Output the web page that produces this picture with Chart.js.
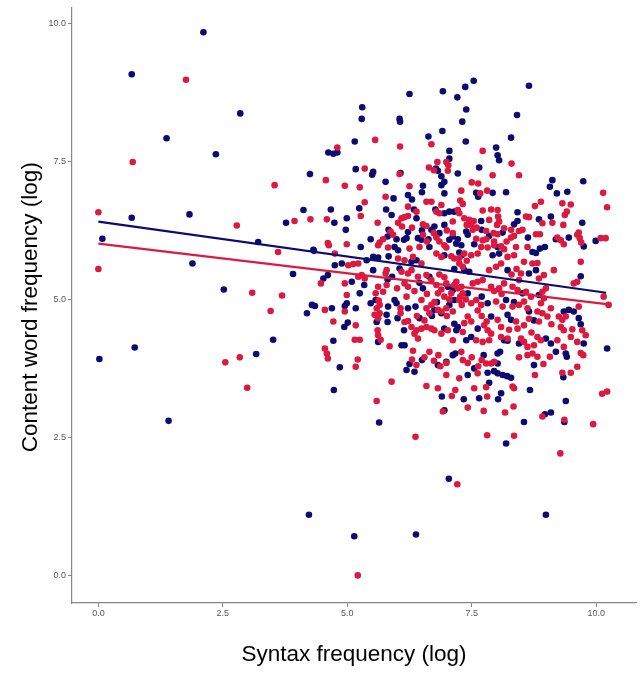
<!DOCTYPE html>
<html>
<head>
<meta charset="utf-8">
<script src="https://cdn.jsdelivr.net/npm/chart.js@4.4.1/dist/chart.umd.min.js"></script>
<style>
  body { margin: 0; background: #fff; }
  #wrap { width: 640px; height: 691px; }
</style>
</head>
<body>
<div id="wrap"><canvas id="scatterChart" width="640" height="691"></canvas></div>
<script>
// tick labels & titles
var xTicks = [0, 2.5, 5, 7.5, 10];
var yTicks = [0, 2.5, 5, 7.5, 10];
var xTitle = 'Syntax frequency (log)';
var yTitle = 'Content word frequency (log)';

// blue series [syntax, content]
var bluePoints = [
    [0.67,9.08],[2.11,9.84],[2.85,8.37],[1.37,7.92],[2.36,7.63],[4.25,7.27],[0.67,6.48],[1.83,6.54],
    [4.12,6.62],[3.77,6.39],[0.08,6.10],[3.21,6.04],[4.33,5.88],[1.89,5.65],[3.91,5.46],[2.52,5.18],
    [3.51,4.27],[0.73,4.13],[0.02,3.92],[3.17,4.01],[1.41,2.80],[4.23,1.10],
    [7.04,1.75],[8.99,1.10],[5.14,0.71],[6.38,0.74],[8.19,2.39],[5.64,2.77],[9.36,2.78],[8.55,2.78],
    [8.97,2.92],[9.09,2.95],[10.22,4.11],[4.73,3.36],[4.85,3.77],[9.39,3.16],
    [7.54,8.96],[8.65,8.87],[7.37,8.85],[6.92,8.77],[6.25,8.72],[7.21,8.66],[7.39,8.44],[5.30,8.48],
    [5.29,8.27],[6.05,8.27],[6.06,8.22],[8.41,8.34],[7.31,8.22],[6.91,8.05],[6.63,7.95],[8.29,7.93],
    [5.15,7.86],[7.38,7.86],[7.99,7.75],
    [4.62,7.66],[4.72,7.64],[4.80,7.66],[7.05,7.69],[5.17,7.36],[5.52,7.31],[5.50,7.26],[5.77,7.13],
    [6.07,7.29],[5.24,6.65],[4.67,6.63],[4.74,6.39],[4.99,6.47],[4.97,6.26],[5.93,6.83],[5.78,6.63],
    [6.22,6.89],[6.52,7.06],[6.50,6.94],[6.30,6.81],[6.34,6.63],[5.89,6.53],[6.39,6.47],[6.69,6.26],
    [6.75,6.32],[6.77,6.63],[6.95,6.56],[7.05,6.59],[7.15,6.59],[6.78,7.37],[6.82,7.33],[6.89,7.23],
    [6.95,7.13],[6.89,7.07],[6.95,6.92],[7.05,7.55],[4.32,5.90],[5.27,5.95],[5.47,6.09],[5.83,6.26],
    [5.81,6.14],[5.99,6.09],[5.95,5.95],[6.14,6.08],[6.19,6.11],[6.22,6.22],[6.42,6.11],[6.49,6.08],
    [6.63,6.09],[6.65,5.95],[7.05,6.08],[7.12,6.14],[7.19,6.01],
    [8.02,7.61],[8.05,7.52],[7.65,7.39],[7.22,7.28],[7.59,6.93],[7.63,6.86],[7.92,6.93],[8.19,6.94],
    [9.12,7.16],[9.07,7.04],[9.21,6.92],[9.42,6.95],[9.74,7.14],[8.42,6.58],[7.69,6.42],[7.70,6.26],
    [8.35,6.36],[8.42,6.42],[8.85,6.45],[9.09,6.50],[9.72,6.39],[8.12,6.21],[8.63,6.12],[7.39,6.23],
    [7.42,6.17],[7.22,6.09],[7.29,5.98],[9.19,6.09],[9.45,6.12],[9.99,6.06],[9.75,5.96],[8.02,5.95],
    [8.97,5.95],[8.87,5.92],
    [4.75,5.62],[4.89,5.65],[5.39,5.71],[5.52,5.77],[5.62,5.76],[5.83,5.78],[6.02,5.89],[6.29,5.68],
    [6.39,5.71],[6.95,5.80],[4.61,5.44],[4.52,5.38],[5.09,5.32],[5.34,5.26],[5.52,5.53],[5.81,5.36],
    [5.90,5.41],[6.05,5.56],[6.52,5.20],[6.65,5.41],[7.02,5.23],[7.12,5.17],[7.15,4.99],[5.25,5.11],
    [4.99,4.93],[4.95,4.88],[4.29,4.90],[4.35,4.88],[4.19,4.75],[4.69,4.84],[5.17,4.84],[4.94,4.50],
    [5.01,4.58],[5.47,4.93],[5.57,4.99],[5.95,4.99],[5.99,4.93],[5.82,4.87],[6.22,4.84],[6.37,4.87],
    [6.75,4.81],[6.89,4.75],[7.05,4.90],[5.59,4.59],[5.79,4.72],[6.01,4.66],[5.81,4.59],[6.45,4.66],
    [6.14,4.44],[6.95,4.47],[7.15,4.56],[7.19,4.44],[4.72,4.25],[5.62,4.23],[6.09,4.17],[6.15,4.17],
    [7.92,5.80],[8.05,5.83],[8.72,5.86],[8.79,5.84],[9.69,5.42],[8.65,5.47],[8.79,5.53],[8.22,5.53],
    [7.35,5.53],[7.45,5.50],[8.52,5.11],[8.85,5.08],[7.42,5.11],[7.82,4.93],[8.19,4.99],[8.65,4.78],
    [9.35,4.78],[9.45,4.81],[9.55,4.78],[9.65,4.66],[9.69,4.55],[8.75,4.62],[8.22,4.72],[8.29,4.63],
    [7.89,4.69],[7.62,4.47],[7.22,4.50],[7.49,4.32],[7.39,4.26],[8.15,4.26],[8.22,4.25],[8.45,4.20],
    [8.99,4.29],[9.09,4.20],[9.75,4.20],
    [6.25,3.83],[6.19,3.72],[6.35,3.69],[6.82,3.81],[6.99,3.87],[7.12,3.99],[7.17,4.02],[6.90,3.24],
    [6.95,2.99],[7.74,3.99],[8.02,4.02],[8.07,4.05],[8.02,3.84],[7.42,3.63],[7.82,3.67],[8.02,3.66],
    [8.12,3.63],[8.21,3.61],[8.29,3.58],[7.85,3.49],[7.65,3.21],[7.34,3.19],[8.09,3.30],[8.03,3.19],
    [8.67,3.36],[8.75,3.81],[9.19,4.05],[9.39,4.02],[9.41,3.96],[9.34,3.59],
    // extra points hidden in the thick part of the cloud
    [7.25,5.85],[7.30,5.80],[6.80,4.95],[6.70,4.70],[6.50,6.25],[6.85,6.20],[6.95,6.35],[7.55,6.00],
    [7.85,6.15],[7.95,3.70],[7.55,3.75],[6.50,3.90],[7.15,5.55],[6.45,5.30],[7.70,5.05],[8.35,4.95]
];

// red series [syntax, content]
var redPoints = [
    [1.76,8.98],[0.69,7.49],[3.54,7.07],[0.0,6.58],[3.94,6.42],[4.26,6.45],[2.78,6.34],[3.61,5.86],
    [0.0,5.55],[3.09,5.12],[3.69,5.07],[3.46,4.79],[2.55,3.86],[2.84,3.95],[2.99,3.40],
    [7.21,1.65],[5.21,0.0],[9.28,2.21],[7.81,2.54],[8.35,2.53],[6.37,2.51],[5.59,3.16],[9.94,2.74],
    [9.36,2.82],[8.92,2.88],[10.12,3.29],[10.22,3.33],[5.89,3.51],
    [5.56,7.89],[6.69,7.81],[6.06,7.77],[4.80,7.75],
    [4.57,7.16],[4.95,7.06],[5.35,7.37],[5.25,7.03],[6.05,7.27],[5.35,6.76],[5.27,6.51],[4.59,6.45],
    [5.61,6.39],[5.77,6.86],[6.25,7.05],[6.59,6.77],[6.69,6.77],[6.22,6.68],[6.39,6.59],[6.09,6.47],
    [6.15,6.49],[6.22,6.51],[6.02,6.39],[6.10,6.32],[6.52,6.36],[6.59,6.33],[6.79,6.59],[6.89,6.71],
    [6.85,6.56],[7.12,6.41],[6.64,7.39],[6.81,7.49],[6.74,7.34],[6.99,7.49],[7.03,7.43],[7.02,7.33],
    [4.61,6.02],[4.63,5.98],[4.99,6.00],[5.62,5.98],[5.65,6.03],[5.72,6.09],[5.87,6.23],[5.92,6.17],
    [5.82,5.94],[6.25,5.92],[6.52,6.17],[6.45,5.95],[6.74,6.20],[6.79,6.12],[6.95,5.98],[6.99,5.94],
    [7.12,6.20],
    [7.72,7.69],[8.30,7.46],[7.92,7.25],[8.45,7.25],[7.50,7.12],[7.63,7.10],[7.29,6.97],[7.67,6.92],
    [7.81,6.97],[10.14,6.93],[10.22,6.67],[7.27,6.79],[7.32,6.73],[7.22,6.62],[7.25,6.56],[7.72,6.61],
    [7.89,6.63],[8.02,6.62],[8.89,6.77],[8.77,6.69],[9.32,6.74],[9.49,6.72],[9.41,6.59],[9.37,6.53],
    [7.35,6.47],[7.45,6.44],[7.54,6.42],[7.49,6.35],[7.52,6.26],[7.85,6.44],[8.03,6.50],[8.05,6.41],
    [7.79,6.24],[8.01,6.35],[8.59,6.50],[8.65,6.49],[8.92,6.38],[9.12,6.39],[9.34,6.35],[8.15,6.29],
    [8.29,6.26],[8.45,6.24],[8.52,6.26],[7.94,6.20],[8.02,6.18],[8.79,6.18],[8.87,6.18],[8.29,6.12],
    [7.79,6.09],[7.59,6.10],[7.72,6.07],[9.22,6.12],[9.29,6.07],[9.62,6.17],[9.67,6.11],[9.70,6.03],
    [9.65,6.21],[10.09,6.11],[10.19,6.11],[9.35,6.00],[7.69,5.95],[7.82,5.94],[7.95,5.98],[8.09,5.96],
    [8.15,5.91],[8.39,5.95],[8.62,5.95],
    [4.75,5.83],[5.02,5.62],[5.12,5.64],[5.22,5.65],[6.02,5.74],[6.15,5.71],[6.32,5.77],[6.49,5.65],
    [6.79,5.83],[6.89,5.77],[7.09,5.78],[7.15,5.74],[4.47,5.29],[4.95,5.29],[5.22,5.41],[5.29,5.44],
    [5.35,5.38],[5.79,5.53],[5.77,5.47],[5.62,5.23],[5.72,5.14],[5.57,5.11],[5.79,5.26],[6.09,5.50],
    [6.22,5.47],[6.29,5.53],[6.15,5.29],[6.22,5.23],[6.42,5.41],[6.59,5.44],[6.69,5.35],[6.79,5.26],
    [6.89,5.18],[6.99,5.29],[6.82,5.11],[6.95,5.05],[7.09,5.11],[7.15,5.26],[7.19,5.32],[4.99,5.08],
    [4.95,4.78],[4.55,4.81],[4.72,4.60],[5.17,4.53],[5.63,4.98],[5.65,4.90],[6.19,5.05],[5.59,4.84],
    [5.55,4.72],[5.65,4.75],[6.07,4.84],[6.07,4.75],[6.49,4.99],[6.59,4.84],[6.69,4.90],[6.65,4.75],
    [6.82,4.81],[6.89,4.78],[6.99,4.84],[7.12,4.78],[5.62,4.66],[6.15,4.59],[6.22,4.61],[6.29,4.50],
    [6.39,4.44],[6.49,4.47],[6.59,4.50],[6.69,4.47],[6.75,4.44],[6.35,4.38],[6.42,4.29],[6.89,4.38],
    [7.02,4.44],[7.12,4.26],[5.15,4.27],[5.25,4.27],[5.61,4.44],[5.62,4.35],[5.67,4.27],[5.85,4.15],
    [4.55,4.11],
    [7.35,5.83],[7.49,5.80],[7.62,5.83],[8.22,5.77],[8.35,5.80],[8.55,5.68],[8.72,5.65],[8.82,5.66],
    [9.15,5.53],[9.69,5.68],[9.55,5.29],[9.62,5.32],[10.15,5.05],[10.25,4.90],[8.95,5.44],[8.85,5.38],
    [8.49,5.47],[8.45,5.35],[7.85,5.53],[7.99,5.59],[8.09,5.65],[7.25,5.65],[7.32,5.59],[7.52,5.29],
    [7.62,5.32],[7.72,5.35],[7.89,5.23],[8.05,5.20],[8.15,5.29],[8.32,5.23],[8.42,5.17],[8.59,5.14],
    [8.69,5.05],[8.92,5.14],[8.99,5.20],[8.95,5.02],[8.89,4.93],[7.29,5.23],[7.32,5.11],[7.25,4.99],
    [7.49,4.93],[7.59,4.99],[7.69,4.90],[7.99,4.96],[8.12,4.87],[8.32,4.87],[8.45,4.90],[8.55,4.96],
    [8.62,4.84],[8.82,4.78],[8.92,4.75],[9.09,4.84],[9.65,4.87],[9.25,4.69],[9.32,4.63],[9.39,4.69],
    [9.72,4.44],[9.79,4.35],[9.52,4.46],[9.29,4.50],[9.35,4.44],[9.02,4.69],[8.85,4.60],[8.65,4.65],
    [8.55,4.53],[8.39,4.60],[8.42,4.47],[8.02,4.63],[8.09,4.50],[7.75,4.53],[7.82,4.44],[7.89,4.38],
    [7.42,4.69],[7.49,4.60],[7.35,4.57],[7.32,4.41],[7.59,4.26],[7.72,4.23],[7.85,4.26],[8.09,4.32],
    [8.22,4.29],[8.49,4.29],[8.55,4.23],[8.82,4.32],[8.89,4.26],[8.62,4.14],[8.75,4.17],[9.22,4.26],
    [9.49,4.32],[9.62,4.23],[9.35,4.14],
    [4.59,4.02],[4.61,3.93],[5.21,3.91],[5.17,3.78],[6.32,4.07],[6.30,3.91],[6.39,3.81],[6.59,3.43],
    [6.74,3.89],[6.83,3.99],[6.87,3.79],[6.99,3.85],[6.82,3.39],[6.99,3.63],[7.10,3.25],[7.17,3.36],
    [6.92,2.97],[7.29,4.05],[7.32,3.90],[7.42,3.85],[7.79,3.84],[7.89,3.84],[7.95,3.87],[7.63,3.79],
    [7.62,3.66],[7.25,3.57],[7.55,3.39],[7.79,3.41],[7.81,3.24],[8.32,3.42],[8.35,3.39],[7.42,3.04],
    [7.74,2.98],[8.17,2.95],[8.34,3.06],[8.62,3.99],[8.72,4.02],[8.82,3.96],[8.94,3.83],[9.07,3.96],
    [9.69,4.03],[9.74,3.99],[9.62,3.78],[9.49,3.67],[9.32,3.67],[8.77,3.63],
    // extra points hidden in the thick part of the cloud
    [7.22,5.20],[7.27,5.05],[7.30,4.90],[7.38,5.00],[7.62,4.80],[7.70,4.70],[7.80,4.60],[7.95,5.15],
    [8.10,5.10],[8.30,5.45],[8.40,5.55],[7.25,5.75],[7.40,5.70],[6.85,5.45],[6.95,5.40],[7.05,5.00],
    [7.00,4.70],[6.75,4.95],[6.60,5.10],[6.30,6.30],[6.60,6.05],[6.85,6.05],[7.00,6.25],[7.40,6.35],
    [7.60,6.30],[7.95,6.05],[8.20,6.05],[8.35,6.15],[7.50,3.95],[7.70,3.90],[8.45,3.95],[6.55,3.95],
    [6.65,4.05],[6.40,4.70],[6.55,4.62],[6.00,5.20],[6.35,5.15],[8.25,4.45],[8.70,4.40],[9.10,4.55]
];

// fitted lines (endpoints)
var blueFit = [[0.0, 6.41], [10.2, 5.12]];
var redFit = [[0.0, 6.01], [10.25, 4.91]];

var navy = '#0c0c70';
var crimson = '#dc1a40';

function toXY(arr) {
    return arr.map(function (p) { return { x: p[0], y: p[1] }; });
}

// axis titles drawn by hand so they land where the reference has them
var axisTitles = {
    id: 'axisTitles',
    afterDraw: function (chart) {
        var ctx = chart.ctx;
        var a = chart.chartArea;
        ctx.save();
        ctx.fillStyle = '#000';
        ctx.font = '22.5px "Liberation Sans", Arial, sans-serif';
        ctx.textAlign = 'center';
        ctx.textBaseline = 'middle';
        ctx.fillText(xTitle, (a.left + a.right) / 2, 655);
        ctx.translate(31, (a.top + a.bottom) / 2 + 2);
        ctx.rotate(-Math.PI / 2);
        ctx.fillText(yTitle, 0, 0);
        ctx.restore();
    }
};

var ctx = document.getElementById('scatterChart').getContext('2d');
var myChart = new Chart(ctx, {
    type: 'scatter',
    data: {
        datasets: [
            {
                label: 'blue fit',
                data: toXY(blueFit),
                showLine: true,
                borderColor: navy,
                borderWidth: 2.2,
                pointRadius: 0,
                order: 0
            },
            {
                label: 'red fit',
                data: toXY(redFit),
                showLine: true,
                borderColor: crimson,
                borderWidth: 2.2,
                pointRadius: 0,
                order: 1
            },
            {
                label: 'red',
                data: toXY(redPoints),
                backgroundColor: crimson,
                borderWidth: 0,
                pointRadius: 3.3,
                order: 2
            },
            {
                label: 'blue',
                data: toXY(bluePoints),
                backgroundColor: navy,
                borderWidth: 0,
                pointRadius: 3.3,
                order: 3
            }
        ]
    },
    options: {
        responsive: false,
        animation: false,
        layout: { padding: { top: 5, right: 2, left: 0, bottom: 0 } },
        plugins: {
            legend: { display: false },
            tooltip: { enabled: false }
        },
        scales: {
            x: {
                type: 'linear',
                min: -0.53,
                max: 10.8,
                afterFit: function (scale) { scale.height = 88; },
                afterBuildTicks: function (scale) {
                    scale.ticks = xTicks.map(function (v) { return { value: v }; });
                },
                ticks: {
                    autoSkip: false,
                    maxRotation: 0,
                    padding: 1,
                    color: '#555',
                    font: { family: '"Liberation Sans", Arial, sans-serif', size: 9 },
                    callback: function (v) { return Number(v).toFixed(1); }
                },
                grid: { drawOnChartArea: false, drawTicks: true, tickLength: 4, color: '#888' },
                border: { color: '#888', width: 1.2 }
            },
            y: {
                type: 'linear',
                min: -0.5,
                max: 10.29,
                afterFit: function (scale) { scale.width = 72; },
                afterBuildTicks: function (scale) {
                    scale.ticks = yTicks.map(function (v) { return { value: v }; });
                },
                ticks: {
                    autoSkip: false,
                    padding: 2,
                    color: '#555',
                    font: { family: '"Liberation Sans", Arial, sans-serif', size: 9 },
                    callback: function (v) { return Number(v).toFixed(1); }
                },
                grid: { drawOnChartArea: false, drawTicks: true, tickLength: 4, color: '#888' },
                border: { color: '#888', width: 1.2 }
            }
        }
    },
    plugins: [axisTitles]
});
</script>
</body>
</html>
